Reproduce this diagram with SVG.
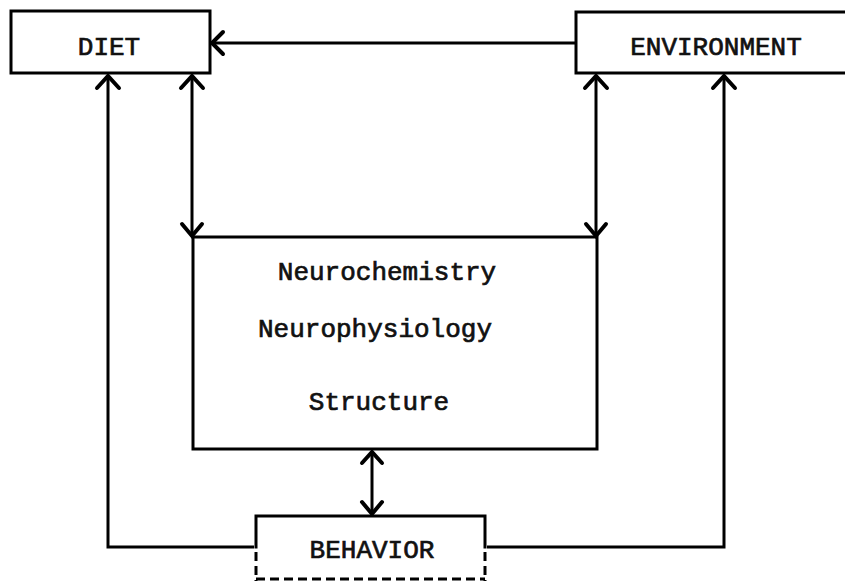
<svg xmlns="http://www.w3.org/2000/svg" width="845" height="581" viewBox="0 0 845 581">
<defs>
<style>
.box{fill:none;stroke:#000;stroke-width:3;stroke-linecap:square}
.ln{fill:none;stroke:#000;stroke-width:3}
.dash{fill:none;stroke:#000;stroke-width:3;stroke-dasharray:9 5}
.ah{fill:none;stroke:#000;stroke-width:4;stroke-linecap:round;stroke-linejoin:miter}
text{font-family:"Liberation Mono","DejaVu Sans Mono",monospace;font-size:26px;fill:#111;stroke:#111;stroke-width:0.7;text-anchor:middle}
</style>
</defs>
<rect width="845" height="581" fill="#fff"/>
<g id="diet">
<rect class="box" x="11" y="11" width="199" height="62"/>
<text x="109" y="55">DIET</text>
</g>
<g id="environment">
<path class="box" d="M845 12 H576 V73 H845"/>
<text x="716" y="55">ENVIRONMENT</text>
</g>
<g id="brain">
<rect class="box" x="193" y="237" width="404" height="212"/>
<text x="387" y="280">Neurochemistry</text>
<text x="375" y="337">Neurophysiology</text>
<text x="379" y="410">Structure</text>
</g>
<g id="behavior">
<path class="box" d="M256 547 V516 H485 V547"/>
<path class="dash" d="M256 552 V581"/>
<path class="dash" d="M485 552 V581"/>
<path class="dash" d="M256 579 H485" stroke-width="2"/>
<text x="372" y="558">BEHAVIOR</text>
</g>
<g id="connectors">
<path class="ln" d="M576 43 H212"/>
<path class="ah" d="M223 32 L212 43 L223 54"/>
<path class="ln" d="M108 76 V547 H254"/>
<path class="ah" d="M97 88 L108 76 L119 88"/>
<path class="ln" d="M192 76 V235"/>
<path class="ah" d="M181 88 L192 76 L203 88"/>
<path class="ah" d="M182 224 L192 236 L202 224"/>
<path class="ln" d="M596 76 V235"/>
<path class="ah" d="M585 88 L596 76 L607 88"/>
<path class="ah" d="M586 224 L596 236 L606 224"/>
<path class="ln" d="M724 76 V547 H487"/>
<path class="ah" d="M713 88 L724 76 L735 88"/>
<path class="ln" d="M372 452 V513"/>
<path class="ah" d="M362 463 L372 452 L382 463"/>
<path class="ah" d="M362 502 L372 514 L382 502"/>
</g>
</svg>
